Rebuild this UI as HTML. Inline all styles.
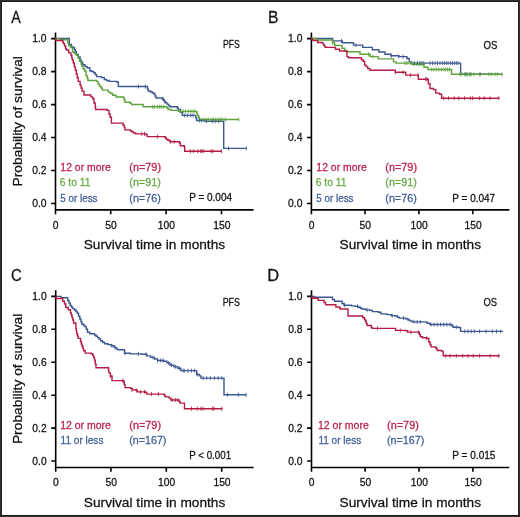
<!DOCTYPE html>
<html><head><meta charset="utf-8"><style>
html,body{margin:0;padding:0;background:#fff;}
body{width:520px;height:517px;overflow:hidden;}
.fig{position:absolute;left:0;top:0;width:520px;height:517px;box-sizing:border-box;border:1px solid #2e2e2e;box-shadow:inset 0 0 0 1px #202020;background:#fff;}
svg{position:absolute;left:0;top:0;will-change:transform;}
text{font-family:"Liberation Sans", sans-serif;}
</style></head><body>
<div class="fig"></div>
<svg width="520" height="517" viewBox="0 0 520 517" font-family='"Liberation Sans", sans-serif'>
<path d="M55.5 32.4V214.2M55.5 209.9H253.6M51.1 38.6H55.5M51.1 71.6H55.5M51.1 104.6H55.5M51.1 137.5H55.5M51.1 170.5H55.5M51.1 203.5H55.5M110.7 209.9V214.2M166.1 209.9V214.2M221.5 209.9V214.2" stroke="#000" stroke-width="1.6" fill="none"/>
<text x="46.5" y="42.2" text-anchor="end" font-size="10.3" fill="#111111" stroke="#111111" stroke-width="0.26">1.0</text>
<text x="46.5" y="75.2" text-anchor="end" font-size="10.3" fill="#111111" stroke="#111111" stroke-width="0.26">0.8</text>
<text x="46.5" y="108.2" text-anchor="end" font-size="10.3" fill="#111111" stroke="#111111" stroke-width="0.26">0.6</text>
<text x="46.5" y="141.1" text-anchor="end" font-size="10.3" fill="#111111" stroke="#111111" stroke-width="0.26">0.4</text>
<text x="46.5" y="174.1" text-anchor="end" font-size="10.3" fill="#111111" stroke="#111111" stroke-width="0.26">0.2</text>
<text x="46.5" y="207.1" text-anchor="end" font-size="10.3" fill="#111111" stroke="#111111" stroke-width="0.26">0.0</text>
<text x="55.6" y="228.8" text-anchor="middle" font-size="10.3" fill="#111111" stroke="#111111" stroke-width="0.26">0</text>
<text x="111.0" y="228.8" text-anchor="middle" font-size="10.3" fill="#111111" stroke="#111111" stroke-width="0.26">50</text>
<text x="166.4" y="228.8" text-anchor="middle" font-size="10.3" fill="#111111" stroke="#111111" stroke-width="0.26">100</text>
<text x="221.8" y="228.8" text-anchor="middle" font-size="10.3" fill="#111111" stroke="#111111" stroke-width="0.26">150</text>
<text x="154.4" y="249.2" text-anchor="middle" font-size="13.7" fill="#111111" stroke="#111111" stroke-width="0.26" textLength="141.5" lengthAdjust="spacingAndGlyphs">Survival time in months</text>
<text transform="translate(21.6 186.5) rotate(-90)" x="0" y="0" font-size="13.3" fill="#111111" stroke="#111111" stroke-width="0.26" textLength="130.4" lengthAdjust="spacingAndGlyphs">Probability of survival</text>
<path d="M311.4 32.4V214.2M311.4 209.9H509.4M307.0 38.6H311.4M307.0 71.6H311.4M307.0 104.6H311.4M307.0 137.5H311.4M307.0 170.5H311.4M307.0 203.5H311.4M365.0 209.9V214.2M418.9 209.9V214.2M472.8 209.9V214.2" stroke="#000" stroke-width="1.6" fill="none"/>
<text x="302.4" y="42.2" text-anchor="end" font-size="10.3" fill="#111111" stroke="#111111" stroke-width="0.26">1.0</text>
<text x="302.4" y="75.2" text-anchor="end" font-size="10.3" fill="#111111" stroke="#111111" stroke-width="0.26">0.8</text>
<text x="302.4" y="108.2" text-anchor="end" font-size="10.3" fill="#111111" stroke="#111111" stroke-width="0.26">0.6</text>
<text x="302.4" y="141.1" text-anchor="end" font-size="10.3" fill="#111111" stroke="#111111" stroke-width="0.26">0.4</text>
<text x="302.4" y="174.1" text-anchor="end" font-size="10.3" fill="#111111" stroke="#111111" stroke-width="0.26">0.2</text>
<text x="302.4" y="207.1" text-anchor="end" font-size="10.3" fill="#111111" stroke="#111111" stroke-width="0.26">0.0</text>
<text x="311.5" y="228.8" text-anchor="middle" font-size="10.3" fill="#111111" stroke="#111111" stroke-width="0.26">0</text>
<text x="365.3" y="228.8" text-anchor="middle" font-size="10.3" fill="#111111" stroke="#111111" stroke-width="0.26">50</text>
<text x="419.2" y="228.8" text-anchor="middle" font-size="10.3" fill="#111111" stroke="#111111" stroke-width="0.26">100</text>
<text x="473.1" y="228.8" text-anchor="middle" font-size="10.3" fill="#111111" stroke="#111111" stroke-width="0.26">150</text>
<text x="410.3" y="249.2" text-anchor="middle" font-size="13.7" fill="#111111" stroke="#111111" stroke-width="0.26" textLength="141.5" lengthAdjust="spacingAndGlyphs">Survival time in months</text>
<path d="M55.7 290.2V471.8M55.7 467.5H253.6M51.3 296.4H55.7M51.3 329.3H55.7M51.3 362.2H55.7M51.3 395.2H55.7M51.3 428.1H55.7M51.3 461.0H55.7M110.9 467.5V471.8M166.3 467.5V471.8M221.7 467.5V471.8" stroke="#000" stroke-width="1.6" fill="none"/>
<text x="46.7" y="300.0" text-anchor="end" font-size="10.3" fill="#111111" stroke="#111111" stroke-width="0.26">1.0</text>
<text x="46.7" y="332.9" text-anchor="end" font-size="10.3" fill="#111111" stroke="#111111" stroke-width="0.26">0.8</text>
<text x="46.7" y="365.8" text-anchor="end" font-size="10.3" fill="#111111" stroke="#111111" stroke-width="0.26">0.6</text>
<text x="46.7" y="398.8" text-anchor="end" font-size="10.3" fill="#111111" stroke="#111111" stroke-width="0.26">0.4</text>
<text x="46.7" y="431.7" text-anchor="end" font-size="10.3" fill="#111111" stroke="#111111" stroke-width="0.26">0.2</text>
<text x="46.7" y="464.6" text-anchor="end" font-size="10.3" fill="#111111" stroke="#111111" stroke-width="0.26">0.0</text>
<text x="55.8" y="486.4" text-anchor="middle" font-size="10.3" fill="#111111" stroke="#111111" stroke-width="0.26">0</text>
<text x="111.2" y="486.4" text-anchor="middle" font-size="10.3" fill="#111111" stroke="#111111" stroke-width="0.26">50</text>
<text x="166.6" y="486.4" text-anchor="middle" font-size="10.3" fill="#111111" stroke="#111111" stroke-width="0.26">100</text>
<text x="222.0" y="486.4" text-anchor="middle" font-size="10.3" fill="#111111" stroke="#111111" stroke-width="0.26">150</text>
<text x="154.6" y="506.8" text-anchor="middle" font-size="13.7" fill="#111111" stroke="#111111" stroke-width="0.26" textLength="141.5" lengthAdjust="spacingAndGlyphs">Survival time in months</text>
<text transform="translate(21.8 444.1) rotate(-90)" x="0" y="0" font-size="13.3" fill="#111111" stroke="#111111" stroke-width="0.26" textLength="130.4" lengthAdjust="spacingAndGlyphs">Probability of survival</text>
<path d="M311.5 290.2V471.8M311.5 467.5H509.3M307.1 296.4H311.5M307.1 329.3H311.5M307.1 362.2H311.5M307.1 395.2H311.5M307.1 428.1H311.5M307.1 461.0H311.5M365.1 467.5V471.8M419.0 467.5V471.8M472.9 467.5V471.8" stroke="#000" stroke-width="1.6" fill="none"/>
<text x="302.5" y="300.0" text-anchor="end" font-size="10.3" fill="#111111" stroke="#111111" stroke-width="0.26">1.0</text>
<text x="302.5" y="332.9" text-anchor="end" font-size="10.3" fill="#111111" stroke="#111111" stroke-width="0.26">0.8</text>
<text x="302.5" y="365.8" text-anchor="end" font-size="10.3" fill="#111111" stroke="#111111" stroke-width="0.26">0.6</text>
<text x="302.5" y="398.8" text-anchor="end" font-size="10.3" fill="#111111" stroke="#111111" stroke-width="0.26">0.4</text>
<text x="302.5" y="431.7" text-anchor="end" font-size="10.3" fill="#111111" stroke="#111111" stroke-width="0.26">0.2</text>
<text x="302.5" y="464.6" text-anchor="end" font-size="10.3" fill="#111111" stroke="#111111" stroke-width="0.26">0.0</text>
<text x="311.6" y="486.4" text-anchor="middle" font-size="10.3" fill="#111111" stroke="#111111" stroke-width="0.26">0</text>
<text x="365.4" y="486.4" text-anchor="middle" font-size="10.3" fill="#111111" stroke="#111111" stroke-width="0.26">50</text>
<text x="419.3" y="486.4" text-anchor="middle" font-size="10.3" fill="#111111" stroke="#111111" stroke-width="0.26">100</text>
<text x="473.2" y="486.4" text-anchor="middle" font-size="10.3" fill="#111111" stroke="#111111" stroke-width="0.26">150</text>
<text x="410.3" y="506.8" text-anchor="middle" font-size="13.7" fill="#111111" stroke="#111111" stroke-width="0.26" textLength="141.5" lengthAdjust="spacingAndGlyphs">Survival time in months</text>
<text x="11.25" y="23.20" font-size="17.0" fill="#111111" stroke="#111111" stroke-width="0.26" textLength="9.53" lengthAdjust="spacingAndGlyphs">A</text>
<text x="267.89" y="23.10" font-size="17.0" fill="#111111" stroke="#111111" stroke-width="0.26" textLength="10.47" lengthAdjust="spacingAndGlyphs">B</text>
<text x="10.90" y="281.00" font-size="17.0" fill="#111111" stroke="#111111" stroke-width="0.26" textLength="10.80" lengthAdjust="spacingAndGlyphs">C</text>
<text x="267.33" y="281.00" font-size="17.0" fill="#111111" stroke="#111111" stroke-width="0.26" textLength="11.89" lengthAdjust="spacingAndGlyphs">D</text>
<text x="222.96" y="47.80" font-size="11.1" fill="#111111" stroke="#111111" stroke-width="0.26" textLength="16.88" lengthAdjust="spacingAndGlyphs">PFS</text>
<text x="222.64" y="305.80" font-size="11.1" fill="#111111" stroke="#111111" stroke-width="0.26" textLength="17.21" lengthAdjust="spacingAndGlyphs">PFS</text>
<text x="483.52" y="48.50" font-size="11.3" fill="#111111" stroke="#111111" stroke-width="0.26" textLength="13.86" lengthAdjust="spacingAndGlyphs">OS</text>
<text x="483.53" y="306.00" font-size="11.3" fill="#111111" stroke="#111111" stroke-width="0.26" textLength="13.54" lengthAdjust="spacingAndGlyphs">OS</text>
<text x="189.15" y="201.20" font-size="10.3" fill="#111111" stroke="#111111" stroke-width="0.26" textLength="42.91" lengthAdjust="spacingAndGlyphs">P = 0.004</text>
<text x="452.25" y="201.50" font-size="10.3" fill="#111111" stroke="#111111" stroke-width="0.26" textLength="42.91" lengthAdjust="spacingAndGlyphs">P = 0.047</text>
<text x="189.17" y="458.90" font-size="10.3" fill="#111111" stroke="#111111" stroke-width="0.26" textLength="41.93" lengthAdjust="spacingAndGlyphs">P &lt; 0.001</text>
<text x="452.24" y="458.70" font-size="10.3" fill="#111111" stroke="#111111" stroke-width="0.26" textLength="43.22" lengthAdjust="spacingAndGlyphs">P = 0.015</text>
<text x="60.37" y="170.90" font-size="10.3" fill="#b9244c" stroke="#b9244c" stroke-width="0.26" textLength="50.36" lengthAdjust="spacingAndGlyphs">12 or more</text>
<text x="59.73" y="186.20" font-size="10.3" fill="#67aa45" stroke="#67aa45" stroke-width="0.26" textLength="30.87" lengthAdjust="spacingAndGlyphs">6 to 11</text>
<text x="60.36" y="202.40" font-size="10.3" fill="#42609a" stroke="#42609a" stroke-width="0.26" textLength="37.13" lengthAdjust="spacingAndGlyphs">5 or less</text>
<text x="129.30" y="170.90" font-size="10.3" fill="#b9244c" stroke="#b9244c" stroke-width="0.26" textLength="31.74" lengthAdjust="spacingAndGlyphs">(n=79)</text>
<text x="129.30" y="186.20" font-size="10.3" fill="#67aa45" stroke="#67aa45" stroke-width="0.26" textLength="31.43" lengthAdjust="spacingAndGlyphs">(n=91)</text>
<text x="129.30" y="202.40" font-size="10.3" fill="#42609a" stroke="#42609a" stroke-width="0.26" textLength="31.43" lengthAdjust="spacingAndGlyphs">(n=76)</text>
<text x="316.37" y="170.90" font-size="10.3" fill="#b9244c" stroke="#b9244c" stroke-width="0.26" textLength="50.36" lengthAdjust="spacingAndGlyphs">12 or more</text>
<text x="315.73" y="186.20" font-size="10.3" fill="#67aa45" stroke="#67aa45" stroke-width="0.26" textLength="30.87" lengthAdjust="spacingAndGlyphs">6 to 11</text>
<text x="316.36" y="202.40" font-size="10.3" fill="#42609a" stroke="#42609a" stroke-width="0.26" textLength="37.13" lengthAdjust="spacingAndGlyphs">5 or less</text>
<text x="385.30" y="170.90" font-size="10.3" fill="#b9244c" stroke="#b9244c" stroke-width="0.26" textLength="31.74" lengthAdjust="spacingAndGlyphs">(n=79)</text>
<text x="385.30" y="186.20" font-size="10.3" fill="#67aa45" stroke="#67aa45" stroke-width="0.26" textLength="31.43" lengthAdjust="spacingAndGlyphs">(n=91)</text>
<text x="385.30" y="202.40" font-size="10.3" fill="#42609a" stroke="#42609a" stroke-width="0.26" textLength="31.43" lengthAdjust="spacingAndGlyphs">(n=76)</text>
<text x="60.16" y="428.60" font-size="10.3" fill="#b9244c" stroke="#b9244c" stroke-width="0.26" textLength="50.77" lengthAdjust="spacingAndGlyphs">12 or more</text>
<text x="60.60" y="443.80" font-size="10.3" fill="#42609a" stroke="#42609a" stroke-width="0.26" textLength="42.82" lengthAdjust="spacingAndGlyphs">11 or less</text>
<text x="129.30" y="428.60" font-size="10.3" fill="#b9244c" stroke="#b9244c" stroke-width="0.26" textLength="31.74" lengthAdjust="spacingAndGlyphs">(n=79)</text>
<text x="129.21" y="443.80" font-size="10.3" fill="#42609a" stroke="#42609a" stroke-width="0.26" textLength="37.24" lengthAdjust="spacingAndGlyphs">(n=167)</text>
<text x="317.96" y="428.60" font-size="10.3" fill="#b9244c" stroke="#b9244c" stroke-width="0.26" textLength="50.77" lengthAdjust="spacingAndGlyphs">12 or more</text>
<text x="318.40" y="443.80" font-size="10.3" fill="#42609a" stroke="#42609a" stroke-width="0.26" textLength="42.82" lengthAdjust="spacingAndGlyphs">11 or less</text>
<text x="387.10" y="428.60" font-size="10.3" fill="#b9244c" stroke="#b9244c" stroke-width="0.26" textLength="31.74" lengthAdjust="spacingAndGlyphs">(n=79)</text>
<text x="387.01" y="443.80" font-size="10.3" fill="#42609a" stroke="#42609a" stroke-width="0.26" textLength="37.24" lengthAdjust="spacingAndGlyphs">(n=167)</text>
<path d="M55.3 38.5H69.3V44.4H71.4V46.6H72.8V47.5H74.3V49.5H75.5V52.0H76.4V54.4H78.2V57.0H80.1V60.1H81.5V62.5H82.8V64.8H85.0V66.5H87.1V67.8H89.8V70.8H91.5V71.5H93.7V72.7H95.2V74.5H96.6V76.6H101.4V77.6H104.3V79.5H106.5V80.5H109.2V81.4H117.0V82.2H118.3V86.5H147.5V89.0H148.2V91.0H150.6V92.0H152.3V93.0H154.0V94.0H155.0V96.0H156.0V98.0H162.1V98.7H163.3V100.0H164.2V101.4H165.5V102.8H166.9V104.1H168.5V105.5H170.0V106.8H177.3V108.0H178.3V109.4H180.3V112.4H182.3V115.4H195.9V118.0H196.6V120.5H205.0V121.3H223.7V148.4H246.9" stroke="#3b5892" stroke-width="1.4" fill="none" stroke-linejoin="miter"/>
<path d="M55.3 38.5H59.5V39.8H67.8V43.0H68.7V45.9H70.5V47.5H72.6V52.0H74.3V53.6H76.4V55.4H78.2V58.2H79.5V61.4H81.1V64.0H81.8V66.0H83.0V68.8H84.5V71.0H86.0V75.6H87.2V78.0H87.9V80.5H96.6V81.4H98.0V84.0H99.5V86.3H101.0V88.0H102.4V90.1H108.2V92.1H110.5V93.5H112.7V95.3H116.1V97.0H123.5V97.5H124.2V100.0H124.9V102.3H130.3V103.4H131.7V104.5H142.5V104.8H143.2V106.8H167.0V108.0H168.2V109.5H171.2V110.4H178.3V111.4H196.8V113.5H197.5V115.4H198.5V117.5H199.5V119.5H238.9" stroke="#5fa33d" stroke-width="1.4" fill="none" stroke-linejoin="miter"/>
<path d="M55.3 38.5H56.0V40.5H62.7V42.0H63.5V43.6H64.5V46.0H65.6V48.5H66.4V50.0H68.7V52.9H71.0V55.2H71.8V58.0H72.4V60.1H73.3V63.0H74.3V66.9H75.3V70.0H76.3V73.7H77.2V77.5H78.2V81.4H80.1V85.3H81.1V88.0H82.1V91.1H84.0V95.0H90.8V96.9H92.7V98.8H94.0V103.0H95.2V107.0H95.6V109.5H107.2V110.4H109.0V114.0H110.1V117.2H111.4V123.1H123.0V125.0H124.2V127.1H124.9V129.9H130.3V130.8H131.7V131.9H133.5V133.0H135.7V133.9H146.0V134.6H147.2V136.6H165.1V137.5H166.2V139.3H168.0V140.5H170.2V141.7H179.3V142.7H180.3V145.7H184.3V146.7H184.7V151.2H221.7" stroke="#b51b45" stroke-width="1.4" fill="none" stroke-linejoin="miter"/>
<path d="M311.2 38.5H332.7V40.9H342.3V42.8H353.5V45.1H362.7V47.4H372.3V49.7H378.9V52.0H385.0V54.3H390.8V55.7H398.8V56.6H406.9V58.5H409.2V61.9H411.5V63.1H460.6V74.3H500.0" stroke="#3b5892" stroke-width="1.4" fill="none" stroke-linejoin="miter"/>
<path d="M311.2 38.5H316.5V40.0H332.5V42.8H334.6V45.5H342.0V48.2H344.6V50.5H346.2V51.7H360.0V54.3H370.0V56.6H378.2V58.9H393.5V61.9H396.0V63.1H412.0V64.2H424.0V67.2H428.0V69.5H451.5V74.3H502.7" stroke="#5fa33d" stroke-width="1.4" fill="none" stroke-linejoin="miter"/>
<path d="M311.2 38.5H312.0V39.7H313.1V40.5H317.7V42.5H322.3V43.1H323.5V45.0H324.6V46.6H325.4V47.4H335.4V49.2H339.6V51.0H347.0V56.6H348.5V57.8H361.5V59.7H363.0V61.2H364.6V65.1H366.2V66.6H367.7V68.6H370.0V70.3H395.3V72.3H405.8V75.1H418.4V79.2H428.3V83.8H430.0V88.5H433.5V89.6H435.8V93.1H439.5V94.2H441.6V98.2H499.2" stroke="#b51b45" stroke-width="1.4" fill="none" stroke-linejoin="miter"/>
<path d="M55.5 296.4H61.0V297.7H67.7V300.5H69.0V303.0H70.2V305.5H71.5V307.0H72.6V308.6H74.5V310.0H76.0V311.5H77.2V313.2H78.5V316.0H79.8V319.0H81.0V321.8H81.8V324.0H83.5V325.5H85.0V326.6H86.3V329.2H87.5V332.2H89.8V333.8H94.5V335.0H96.0V336.3H97.6V337.6H99.0V339.0H100.6V340.7H102.5V342.3H104.5V343.8H108.1V344.6H111.2V345.8H114.3V347.4H116.0V348.5H117.4V349.7H124.5V353.3H130.5V353.9H142.1V354.3H146.8V355.9H150.6V357.4H154.5V359.0H157.6V360.5H163.8V361.3H166.9V362.9H170.0V365.2H173.9V366.7H177.7V368.3H180.8V370.6H196.6V374.5H199.5V375.9H200.9V378.1H224.0V394.7H246.3" stroke="#3b5892" stroke-width="1.4" fill="none" stroke-linejoin="miter"/>
<path d="M55.5 296.4H56.3V298.5H62.8V301.3H64.5V304.0H65.8V307.5H68.2V309.8H70.5V312.9H71.3V315.0H72.0V317.5H72.8V320.0H73.6V323.0H75.9V328.4H76.3V331.0H76.7V333.8H77.5V336.0H78.2V338.4H80.5V341.5H81.3V344.0H82.1V346.2H82.9V348.5H83.6V350.8H85.2V353.1H91.5V354.0H92.9V355.4H93.7V357.5H94.5V360.1H95.3V364.0H96.0V367.8H108.5V370.0H108.9V372.9H110.4V376.0H112.0V380.6H123.9V382.5H124.3V384.5H125.1V387.6H130.5V388.4H132.1V389.9H135.9V390.4H137.5V391.9H145.2V392.3H146.8V394.1H164.5V395.5H165.3V396.9H169.2V398.1H170.8V400.0H179.2V401.5H180.0V403.1H184.5V408.7H222.5" stroke="#b51b45" stroke-width="1.4" fill="none" stroke-linejoin="miter"/>
<path d="M311.4 296.4H314.5V297.3H332.5V299.5H334.5V301.2H342.0V303.5H344.0V305.2H351.5V305.9H355.0V306.4H358.5V307.3H360.5V308.2H361.9V309.0H365.4V309.9H369.7V310.4H372.3V311.6H378.4V312.2H381.0V313.9H387.0V314.6H391.3V315.6H394.8V316.0H397.4V317.3H399.2V318.1H405.6V318.8H408.0V320.0H409.8V320.9H411.9V321.9H427.0V323.2H429.9V324.5H452.0V326.0H453.2V327.2H459.5V327.8H460.6V331.4H502.9" stroke="#3b5892" stroke-width="1.4" fill="none" stroke-linejoin="miter"/>
<path d="M311.4 296.4H312.0V297.3H312.6V298.3H318.2V300.4H324.0V302.5H325.6V304.7H335.9V307.0H339.4V307.7H340.3V309.0H348.0V316.0H362.8V317.7H364.5V319.5H365.4V321.2H366.3V323.5H367.1V325.5H371.4V327.7H372.3V328.4H395.6V330.4H405.6V330.8H407.7V332.1H419.3V334.5H420.4V336.7H422.5V337.8H426.7V338.4H428.8V342.0H430.0V344.5H431.0V346.9H435.2V347.3H436.3V349.0H437.3V350.5H441.5V351.1H443.2V355.8H499.7" stroke="#b51b45" stroke-width="1.4" fill="none" stroke-linejoin="miter"/>
<path d="M138.4 84.5v4.0M145.2 84.5v4.0M163.0 96.7v4.0M164.8 99.4v4.0M184.4 113.4v4.0M187.3 113.4v4.0M190.8 113.4v4.0M193.1 113.4v4.0M199.6 118.5v4.0M201.9 118.5v4.0M206.5 119.3v4.0M212.3 119.3v4.0M215.2 119.3v4.0M218.7 119.3v4.0M228.5 146.4v4.0M246.3 146.4v4.0" stroke="#3b5892" stroke-width="0.85" fill="none"/>
<path d="M152.7 104.8v4.0M154.4 104.8v4.0M157.3 104.8v4.0M159.6 104.8v4.0M161.3 104.8v4.0M163.7 104.8v4.0M181.0 109.4v4.0M183.3 109.4v4.0M185.6 109.4v4.0M188.5 109.4v4.0M190.8 109.4v4.0M193.1 109.4v4.0M194.8 109.4v4.0M199.0 115.5v4.0M203.7 117.5v4.0M206.0 117.5v4.0M208.3 117.5v4.0M211.2 117.5v4.0M213.5 117.5v4.0M215.8 117.5v4.0M218.1 117.5v4.0M220.4 117.5v4.0M222.1 117.5v4.0M225.6 117.5v4.0M238.8 117.5v4.0" stroke="#5fa33d" stroke-width="0.85" fill="none"/>
<path d="M141.8 131.9v4.0M144.5 131.9v4.0M157.4 134.6v4.0M170.2 139.7v4.0M174.2 139.7v4.0M190.4 149.2v4.0M193.4 149.2v4.0M197.9 149.2v4.0M200.8 149.2v4.0M201.9 149.2v4.0M203.7 149.2v4.0M211.2 149.2v4.0M212.9 149.2v4.0M221.4 149.2v4.0" stroke="#b51b45" stroke-width="0.85" fill="none"/>
<path d="M341.5 38.9v4.0M356.0 43.1v4.0M391.3 53.7v4.0M398.8 54.6v4.0M403.1 54.6v4.0M414.4 61.1v4.0M417.5 61.1v4.0M420.0 61.1v4.0M421.9 61.1v4.0M423.8 61.1v4.0M430.0 61.1v4.0M432.5 61.1v4.0M435.0 61.1v4.0M437.5 61.1v4.0M440.0 61.1v4.0M442.5 61.1v4.0M444.4 61.1v4.0M446.3 61.1v4.0M448.1 61.1v4.0M450.6 61.1v4.0M452.5 61.1v4.0M454.4 61.1v4.0M456.3 61.1v4.0M458.1 61.1v4.0M465.0 72.3v4.0M467.0 72.3v4.0M470.0 72.3v4.0M480.0 72.3v4.0" stroke="#3b5892" stroke-width="0.85" fill="none"/>
<path d="M333.0 40.8v4.0M368.5 52.3v4.0M373.0 54.6v4.0M405.0 61.1v4.0M406.9 61.1v4.0M410.0 61.1v4.0M411.9 61.1v4.0M413.8 62.2v4.0M416.3 62.2v4.0M418.8 62.2v4.0M421.3 62.2v4.0M423.1 62.2v4.0M431.3 67.5v4.0M433.8 67.5v4.0M436.3 67.5v4.0M438.8 67.5v4.0M441.3 67.5v4.0M443.8 67.5v4.0M445.6 67.5v4.0M447.5 67.5v4.0M449.4 67.5v4.0M460.0 72.3v4.0M461.9 72.3v4.0M465.0 72.3v4.0M466.9 72.3v4.0M469.4 72.3v4.0M471.3 72.3v4.0M473.8 72.3v4.0M480.0 72.3v4.0M488.8 72.3v4.0M491.3 72.3v4.0M495.0 72.3v4.0M497.5 72.3v4.0M501.9 72.3v4.0" stroke="#5fa33d" stroke-width="0.85" fill="none"/>
<path d="M395.4 70.3v4.0M403.1 70.3v4.0M410.6 73.1v4.0M418.1 73.1v4.0M425.6 77.2v4.0M426.9 77.2v4.0M443.8 96.2v4.0M448.5 96.2v4.0M454.2 96.2v4.0M458.8 96.2v4.0M464.6 96.2v4.0M470.4 96.2v4.0M472.7 96.2v4.0M479.6 96.2v4.0M484.2 96.2v4.0M490.0 96.2v4.0M498.9 96.2v4.0" stroke="#b51b45" stroke-width="0.85" fill="none"/>
<path d="M112.0 343.8v4.0M115.0 345.4v4.0M125.1 351.3v4.0M138.3 351.9v4.0M146.0 352.3v4.0M153.0 355.4v4.0M157.6 358.5v4.0M160.7 358.5v4.0M163.0 358.5v4.0M168.4 360.9v4.0M171.5 363.2v4.0M175.4 364.7v4.0M179.3 366.3v4.0M183.1 368.6v4.0M184.3 368.6v4.0M187.9 368.6v4.0M191.5 368.6v4.0M194.4 368.6v4.0M197.3 372.5v4.0M203.1 376.1v4.0M206.7 376.1v4.0M210.3 376.1v4.0M214.6 376.1v4.0M218.2 376.1v4.0M221.8 376.1v4.0M227.6 392.7v4.0M238.4 392.7v4.0M246.0 392.7v4.0" stroke="#3b5892" stroke-width="0.85" fill="none"/>
<path d="M110.4 374.0v4.0M122.8 378.6v4.0M132.1 387.9v4.0M136.7 388.4v4.0M140.6 389.9v4.0M144.5 389.9v4.0M151.4 392.1v4.0M158.4 392.1v4.0M172.3 398.0v4.0M175.4 398.0v4.0M177.7 398.0v4.0M191.5 406.7v4.0M197.3 406.7v4.0M200.9 406.7v4.0M203.1 406.7v4.0M212.5 406.7v4.0M213.9 406.7v4.0M221.8 406.7v4.0" stroke="#b51b45" stroke-width="0.85" fill="none"/>
<path d="M344.6 303.2v4.0M357.6 304.4v4.0M367.1 307.9v4.0M392.2 313.6v4.0M403.5 316.1v4.0M414.0 319.9v4.0M417.2 319.9v4.0M420.4 319.9v4.0M431.0 322.5v4.0M434.1 322.5v4.0M437.3 322.5v4.0M440.5 322.5v4.0M443.7 322.5v4.0M446.8 322.5v4.0M450.0 322.5v4.0M456.3 325.2v4.0M464.8 329.4v4.0M468.0 329.4v4.0M471.2 329.4v4.0M474.3 329.4v4.0M479.6 329.4v4.0M486.0 329.4v4.0M492.3 329.4v4.0M496.5 329.4v4.0M500.8 329.4v4.0" stroke="#3b5892" stroke-width="0.85" fill="none"/>
<path d="M377.5 326.4v4.0M400.3 328.4v4.0M410.9 330.1v4.0M418.3 330.1v4.0M426.7 336.4v4.0M445.8 353.8v4.0M450.0 353.8v4.0M456.3 353.8v4.0M462.7 353.8v4.0M468.0 353.8v4.0M473.3 353.8v4.0M479.6 353.8v4.0M490.2 353.8v4.0M498.7 353.8v4.0" stroke="#b51b45" stroke-width="0.85" fill="none"/>
</svg>
</body></html>
